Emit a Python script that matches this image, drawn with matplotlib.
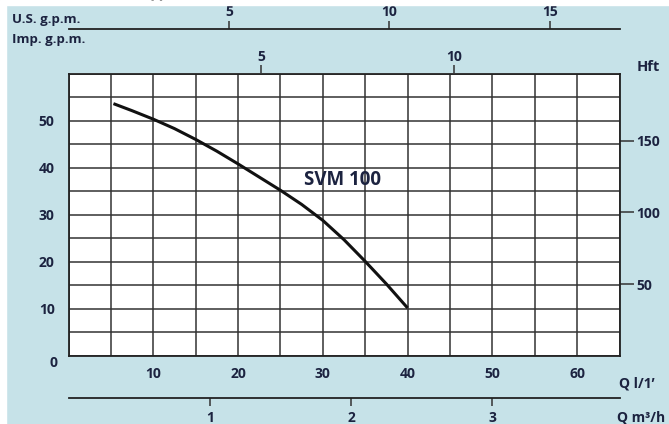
import numpy as np
import matplotlib
matplotlib.use("Agg")
import matplotlib.pyplot as plt

plt.rcParams['font.family'] = ['Open Sans', 'DejaVu Sans']
plt.rcParams['font.weight'] = 'bold'

# pump curve SVM 100: flow (l/min) vs head (m)
flow = [5.3, 7.5, 10, 12.5, 15, 17.5, 20, 22.5, 25, 27.5, 30, 32.5, 35, 37.5, 40]
head = [53.6, 52.1, 50.3, 48.3, 46.0, 43.5, 40.8, 38.0, 35.2, 32.2, 28.8, 24.7, 20.1, 15.3, 10.2]
curve_name = "SVM 100"

left_ticks = [10, 20, 30, 40, 50]
bottom_ticks = [10, 20, 30, 40, 50, 60]
hft_ticks = [50, 100, 150]
imp_ticks = [5, 10]
us_ticks = [5, 10, 15]
m3h_ticks = [1, 2, 3]

M_TO_FT = 3.281
IMP_GPM = 4.546
US_GPM = 3.785

bg = '#c6e2e8'
txt = '#1c2340'
W, H = 669, 424

fig = plt.figure(figsize=(W / 100, H / 100), dpi=100)
fig.patch.set_facecolor(bg)
# white strips at top and left edge
fig.patches.append(plt.Rectangle((0, 1 - 5 / H), 1, 5 / H, transform=fig.transFigure, color='white', zorder=0))
fig.patches.append(plt.Rectangle((0, 0), 6 / W, 1, transform=fig.transFigure, color='white', zorder=0))
fig.text(270 / W, 1 + 7 / H, "системы водоснабжения", ha='right', va='center', fontsize=12, color='#888888')


def px(x0, y0, x1, y1):
    return [x0 / W, 1 - y1 / H, (x1 - x0) / W, (y1 - y0) / H]


ax = fig.add_axes(px(68.5, 73.5, 619.5, 356))
ax.set_facecolor('white')
ax.set_xlim(0, 65)
ax.set_ylim(0, 60)
ax.set_xticks(np.arange(0, 66, 5), minor=True)
ax.set_yticks(np.arange(0, 61, 5), minor=True)
ax.set_xticks(bottom_ticks)
ax.set_yticks(left_ticks)
ax.grid(which='both', color='#333333', lw=1.1)
ax.tick_params(which='both', length=0)
ax.tick_params(axis='x', pad=8, labelsize=10, labelcolor=txt)
ax.tick_params(axis='y', pad=10, labelsize=10, labelcolor=txt)
for s in ax.spines.values():
    s.set_color('#222222')
    s.set_linewidth(1.3)

ax.plot(flow, head, color='#111111', lw=2.2, solid_capstyle='butt', zorder=5)
ax.text(32.3, 37.4, curve_name, fontsize=13.5, color=txt, ha='center', va='center', zorder=6)

# right axis in feet
sec = ax.secondary_yaxis('right', functions=(lambda m: m * M_TO_FT, lambda f: f / M_TO_FT))
sec.set_yticks(hft_ticks)
sec.tick_params(length=10, width=1.1, color='#333333', pad=2, labelsize=10, labelcolor=txt)
sec.spines['right'].set_visible(False)

# top axis in Imp. g.p.m.
top = ax.secondary_xaxis('top', functions=(lambda q: q / IMP_GPM, lambda g: g * IMP_GPM))
top.set_xticks(imp_ticks)
top.tick_params(length=6, width=1.1, color='#333333', pad=1, labelsize=10, labelcolor=txt)
top.spines['top'].set_visible(False)

# U.S. g.p.m. scale line
us = fig.add_axes(px(68.5, 29, 619.5, 30))
us.set_xlim(0, 65 / US_GPM)
us.patch.set_visible(False)
for k in ['left', 'right', 'bottom']:
    us.spines[k].set_visible(False)
us.spines['top'].set_color('#222222')
us.spines['top'].set_linewidth(1.3)
us.set_yticks([])
us.xaxis.tick_top()
us.set_xticks(us_ticks)
us.tick_params(axis='x', length=6, width=1.1, color='#333333', pad=1, labelsize=10, labelcolor=txt)

# m3/h scale line
mh = fig.add_axes(px(68.5, 397, 619.5, 398))
mh.set_xlim(0, 65 * 0.06)
mh.patch.set_visible(False)
for k in ['left', 'right', 'top']:
    mh.spines[k].set_visible(False)
mh.spines['bottom'].set_color('#222222')
mh.spines['bottom'].set_linewidth(1.3)
mh.set_yticks([])
mh.set_xticks(m3h_ticks)
mh.tick_params(axis='x', length=6, width=1.1, color='#333333', pad=3, labelsize=10, labelcolor=txt)

fs = 9.5
fig.text(12 / W, 1 - 19 / H, "U.S. g.p.m.", fontsize=fs, color=txt, va='center', ha='left')
fig.text(12 / W, 1 - 39 / H, "Imp. g.p.m.", fontsize=fs, color=txt, va='center', ha='left')
fig.text(648 / W, 1 - 67 / H, "Hft", fontsize=10.5, color=txt, va='center', ha='center')
fig.text(53 / W, 1 - 363 / H, "0", fontsize=10, color=txt, va='center', ha='center')
fig.text(655 / W, 1 - 383 / H, "Q l/1’", fontsize=10, color=txt, va='center', ha='right')
fig.text(665 / W, 1 - 417 / H, "Q m³/h", fontsize=10, color=txt, va='center', ha='right')

fig.savefig("out.png", dpi=100, facecolor=bg)
